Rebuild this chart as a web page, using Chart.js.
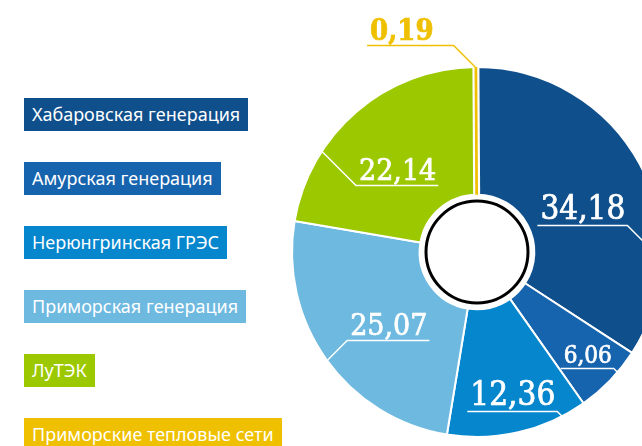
<!DOCTYPE html>
<html>
<head>
<meta charset="utf-8">
<script src="https://cdn.jsdelivr.net/npm/chart.js@4"></script>
<style>
  html, body { margin: 0; padding: 0; background: #fff; overflow: hidden; width: 642px; height: 446px; }
  #wrap { position: relative; width: 642px; height: 446px; overflow: hidden; }
  #Chart-0 { position: absolute; left: 0; top: 0; }
  .leg { position: absolute; left: 24px; height: 33px; line-height: 33px; padding: 0 8px 0 8px;
         color: #fff; font-family: "Noto Sans", sans-serif; font-size: 18px; white-space: nowrap; }
</style>
</head>
<body>
<div id="wrap">
  <canvas id="Chart-0" width="700" height="446"></canvas>
  <div id="legend"></div>
</div>
<script>
// данные
var categories = ['Хабаровская генерация', 'Амурская генерация', 'Нерюнгринская ГРЭС',
                  'Приморская генерация', 'ЛуТЭК', 'Приморские тепловые сети']
var shares = [34.18, 6.06, 12.36, 25.07, 22.14, 0.19]
var colors = ['#0f4f8b', '#1663ae', '#0686cd', '#6eb9df', '#9cc800', '#efc000']

// подписи: радиус, сдвиг угла, размер шрифта, направление выноски, удлинение подчёркивания
var labelR = [115, 151, 146, 114, 115, 235]
var labelShift = [5.5, -1.1, -1.3, -3.8, -3.1, -18.3]
var labelSize = [33, 24, 33, 30, 30, 29]
var leaderDir = [[1, 1], [1, 1], [1, 1], [-1, 1], [-1, -1], [1, 1]]
var underExt = [0, 0, 0, 0, 0, 18]

function draw_legend(){
    var html = ''
    for (let i = 0; i < categories.length; i++) {
        html += '<div class="leg" style="top:' + (98 + i * 64) + 'px;background:' + colors[i] + '">' + categories[i] + '</div>'
    }
    document.getElementById('legend').innerHTML = html
}

var valueLabels = {
    id: 'valueLabels',
    afterDatasetsDraw(chart){
        var ctx = chart.ctx
        var arcs = chart.getDatasetMeta(0).data
        var cx = arcs[0].x, cy = arcs[0].y
        var R = arcs[0].outerRadius

        // тонкий сектор (0,19) — рисуем полоской, иначе его не видно
        arcs.forEach(function(arc, i){
            if (arc.endAngle - arc.startAngle > 0.05) return
            var a = (arc.startAngle + arc.endAngle) / 2
            ctx.save()
            ctx.lineCap = 'butt'
            ctx.beginPath()
            ctx.moveTo(cx + arc.innerRadius * Math.cos(a), cy + arc.innerRadius * Math.sin(a))
            ctx.lineTo(cx + arc.outerRadius * Math.cos(a), cy + arc.outerRadius * Math.sin(a))
            ctx.strokeStyle = '#fff'
            ctx.lineWidth = 7
            ctx.stroke()
            ctx.strokeStyle = colors[i]
            ctx.lineWidth = 2.7
            ctx.stroke()
            ctx.restore()
        })

        // центр
        ctx.save()
        ctx.beginPath()
        ctx.arc(cx, cy, 51, 0, Math.PI * 2)
        ctx.fillStyle = '#fff'
        ctx.fill()
        ctx.lineWidth = 3
        ctx.strokeStyle = '#000'
        ctx.stroke()
        ctx.restore()

        // подписи с выносками
        arcs.forEach(function(arc, i){
            var a = (arc.startAngle + arc.endAngle) / 2 + labelShift[i] * Math.PI / 180
            var tx = cx + labelR[i] * Math.cos(a)
            var ty = cy + labelR[i] * Math.sin(a)
            var size = labelSize[i]
            var text = shares[i].toFixed(2).replace('.', ',')
            var col = (i == shares.length - 1) ? colors[i] : '#fff'
            ctx.save()
            ctx.font = (i == shares.length - 1 ? 'bold ' : '') + size + 'px "DejaVu Serif Condensed", "DejaVu Serif", serif'
            ctx.fontStretch = 'condensed'
            ctx.textAlign = 'center'
            ctx.textBaseline = 'alphabetic'
            ctx.fillStyle = col
            ctx.strokeStyle = col
            var base = ty + size * 0.36
            ctx.fillText(text, tx, base)
            ctx.lineWidth = 0.7
            ctx.strokeText(text, tx, base)
            var w = ctx.measureText(text).width
            var uy = Math.round(base + size * 0.18) + 0.5
            var x0 = tx - w / 2 - 3, x1 = tx + w / 2 + 2
            var d = leaderDir[i]
            if (d[0] > 0) x1 += underExt[i]; else x0 -= underExt[i]
            // выноска под 45° до внешнего края
            var sx = d[0] > 0 ? x1 : x0
            var px = sx - cx, py = uy - cy
            var A = 2, B = 2 * (px * d[0] + py * d[1]), C = px * px + py * py - R * R
            var disc = Math.sqrt(Math.max(B * B - 4 * A * C, 0))
            var t = C < 0 ? (-B + disc) / (2 * A) : (-B - disc) / (2 * A)
            ctx.beginPath()
            ctx.moveTo(d[0] > 0 ? x0 : x1, uy)
            ctx.lineTo(sx, uy)
            ctx.lineTo(sx + d[0] * t, uy + d[1] * t)
            ctx.lineWidth = 1.5
            ctx.stroke()
            ctx.restore()
        })
    }
}

function draw_chart(){
    var ctx = document.getElementById('Chart-0').getContext('2d')
    var chart = new Chart(ctx, {
        type: 'doughnut',
        data: {
            labels: categories,
            datasets: [{
                data: shares,
                backgroundColor: colors,
                borderColor: '#fff',
                borderWidth: 2,
                hoverOffset: 0
            }]
        },
        options: {
            responsive: false,
            animation: false,
            cutout: '31%',
            layout: { padding: { left: 291, top: 66, right: 37, bottom: 8 } },
            plugins: {
                legend: { display: false },
                tooltip: { enabled: false }
            }
        },
        plugins: [valueLabels]
    })
}

draw_legend()
draw_chart()
</script>
</body>
</html>
